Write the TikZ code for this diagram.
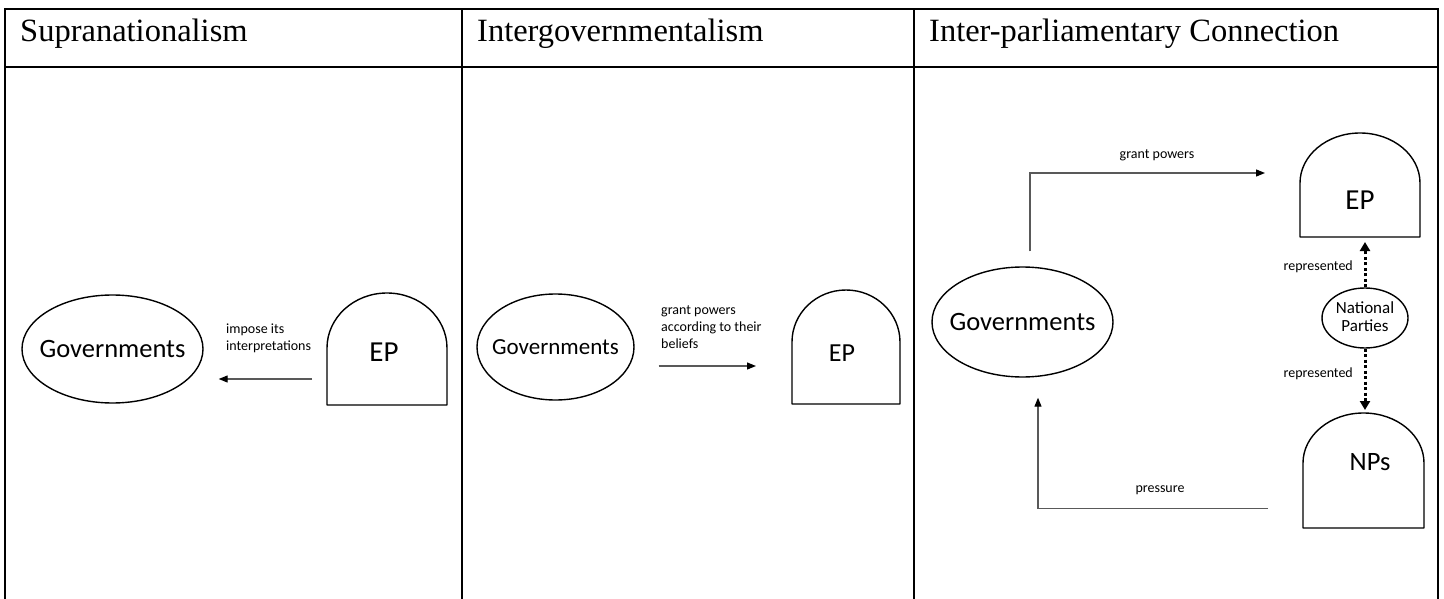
\documentclass[tikz,border=0pt]{standalone}
\usepackage{fontspec}
\setmainfont{Liberation Serif}
\newfontfamily\calib{Carlito}
\usetikzlibrary{shapes.geometric,arrows.meta,calc}

% Outline of a round-topped box: straight sides and base, half-ellipse roof
\newcommand\archoutline[3]{%
  \draw[outline] ([yshift=-#3]#1.north west)
    arc[start angle=180, end angle=0, x radius=#2, y radius=#3]
    -- (#1.south east) -- (#1.south west) -- cycle;}

\begin{document}
\begin{tikzpicture}[x=1pt, y=-1pt,
  rule/.style={line width=2pt, line cap=rect},
  head/.style={font=\fontsize{32.5}{36}\selectfont, anchor=base west, inner sep=0pt},
  govshape/.style={ellipse, draw, line width=1.4pt, inner sep=0pt,
    font=\calib\fontsize{26.5}{30}\selectfont},
  archbox/.style={rectangle, inner sep=0pt, outer sep=0pt},
  outline/.style={line width=1.4pt, line join=round},
  bigtxt/.style={font=\calib\fontsize{26.5}{30}\selectfont, inner sep=0pt},
  eptxt/.style={font=\calib\fontsize{29}{32}\selectfont, inner sep=0pt},
  note/.style={font=\calib\fontsize{14}{17}\selectfont, inner sep=0pt},
  flow/.style={draw=black!65, line width=1.2pt,
    -{Triangle[length=9pt, width=7pt, color=black, fill=black]}},
  rep/.style={line width=3pt, dash pattern=on 3pt off 2.5pt,
    -{Triangle[length=9pt, width=10pt]}}
]
\fill[white] (0,0) rectangle (1444,599);
\useasboundingbox (0,0) rectangle (1444,599);

% table frame
\draw[rule] (5,9) -- (1438,9);
\draw[rule] (5,67) -- (1438,67);
\foreach \x in {5,462,914,1438} \draw[rule] (\x,9) -- (\x,605);

% column headings
\node[head] (h1) at (20,42) {Supranationalism};
\node[head] (h2) at (477,42) {Intergovernmentalism};
\node[head] (h3) at (929,42) {Inter-parliamentary Connection};

% --- supranationalism
\node[govshape, minimum width=181pt, minimum height=108pt] (gov1) at (112.5,349)
  {\makebox[0pt]{Governments}};
\node[archbox, minimum width=120pt, minimum height=112pt] (ep1) at (387,349) {};
\archoutline{ep1}{60pt}{55pt}
\node[eptxt] (ep1-txt) at (384,352) {EP};
\node[note, align=left, anchor=west] (l1) at (226,338.5) {impose its\\interpretations};
\draw[flow, shorten <=15pt, shorten >=15pt] ([yshift=-30pt]ep1.west) -- ([yshift=-30pt]gov1.east);

% --- intergovernmentalism
\node[govshape, minimum width=157pt, minimum height=106pt,
  font=\calib\fontsize{23}{27}\selectfont] (gov2) at (555.5,347)
  {\makebox[0pt]{Governments}};
\node[archbox, minimum width=108pt, minimum height=114pt] (ep2) at (846,347) {};
\archoutline{ep2}{54pt}{52pt}
\node[eptxt, font=\calib\fontsize{26}{30}\selectfont] (ep2-txt) at (842,353) {EP};
\node[note, align=left, anchor=west] (l2) at (661,327)
  {grant powers\\according to their\\beliefs};
\draw[flow, shorten <=24pt, shorten >=36pt] ([yshift=-19pt]gov2.east) -- ([yshift=-19pt]ep2.west);

% --- inter-parliamentary connection
\node[govshape, minimum width=181pt, minimum height=110pt] (gov3) at (1022.5,322)
  {\makebox[0pt]{Governments}};
\node[archbox, minimum width=120pt, minimum height=104pt] (ep3) at (1360,185) {};
\archoutline{ep3}{60pt}{50pt}
\node[eptxt] (ep3-txt) at (1360,200) {EP};
\node[archbox, minimum width=121pt, minimum height=115pt] (nps) at (1363.5,470.5) {};
\archoutline{nps}{60.5pt}{50pt}
\node[bigtxt] (nps-txt) at (1370,462) {NPs};
\node[ellipse, draw, line width=1.4pt, inner sep=0pt, minimum width=86pt, minimum height=60pt,
  font=\calib\fontsize{17}{20}\selectfont] (np) at (1365,318)
  {\makebox[0pt]{\begin{tabular}{@{}c@{}}National\\[-2pt]Parties\end{tabular}}};

\node[note] (l3) at (1157,155) {grant powers};
\node[note, anchor=east] (l4) at (1353,267) {represented};
\node[note, anchor=east] (l5) at (1353,374) {represented};
\node[note] (l6) at (1160,490) {pressure};

\draw[flow] ([xshift=7.5pt, yshift=15pt]gov3.north) |- ([xshift=-35pt, yshift=12pt]ep3.west);
\draw[rep, shorten >=5pt] (np.north) -- (np.north |- ep3.south);
\draw[rep, shorten >=3pt] (np.south) -- (np.south |- nps.north);
\draw[flow] ([xshift=-35pt, yshift=-38pt]nps.west) -| ([xshift=15.5pt, yshift=-20pt]gov3.south);
\end{tikzpicture}
\end{document}
